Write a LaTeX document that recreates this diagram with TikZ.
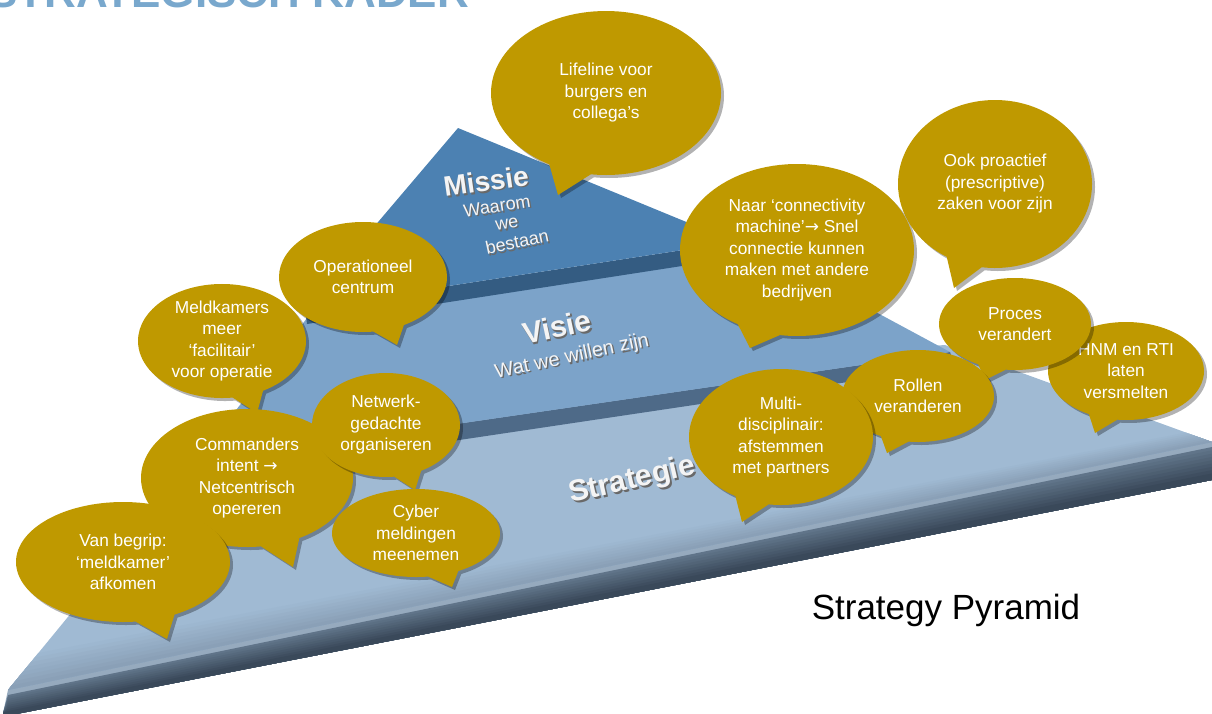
\documentclass[tikz,border=0pt]{standalone}
\usepackage{fontspec}
\setmainfont{Liberation Sans}
\newfontfamily\arrowfont{DejaVu Sans}
\usetikzlibrary{shapes.callouts,shadows}
\definecolor{gold}{RGB}{191,153,0}
\definecolor{titleblue}{RGB}{121,168,205}
\definecolor{missietop}{RGB}{76,129,178}
\definecolor{missieface}{RGB}{52,92,130}
\definecolor{visietop}{RGB}{124,163,201}
\definecolor{visieface}{RGB}{78,106,136}
\definecolor{strattop}{RGB}{160,186,211}
\definecolor{stratnear}{RGB}{138,160,183}
\definecolor{bevellight}{RGB}{150,170,190}
\definecolor{facetop}{RGB}{96,116,137}
\definecolor{facebot}{RGB}{58,73,90}
\definecolor{lbltext}{RGB}{244,244,244}
\definecolor{lblshade}{RGB}{105,105,105}
\newcommand{\arr}{{\arrowfont\fontsize{17}{17}\selectfont →}}
\begin{document}
\begin{tikzpicture}[x=1pt,y=-1pt,
  bubble/.style={ellipse callout, fill=gold, text=white, align=center,
    inner sep=0pt, font=\fontsize{17.3}{21.5}\selectfont,
    callout pointer arc=22,
    drop shadow={shadow xshift=3pt, shadow yshift=-3pt, opacity=0.3, fill=black}},
  bigtitle/.style={font=\fontsize{28}{28}\selectfont\bfseries, inner sep=0pt},
  subtitle/.style={font=\fontsize{18}{20}\selectfont, inner sep=0pt, align=center},
  lbl/.style={text=lbltext},
  lblsh/.style={text=lblshade},
]
\useasboundingbox (0,0) rectangle (1212,713);
\begin{scope}
\clip (0,0) rectangle (1212,713);
% cut-off title
\node[anchor=base west, inner sep=0pt, text=titleblue,
  font=\fontsize{44}{44}\selectfont\bfseries] (title) at (-12,7.5) {STRATEGISCH KADER};

% Strategie slab: front face with bevel (overlapping bands, top to bottom)
\fill[bevellight] (8,690) -- (1212,442) -- (1212,480) -- (6,716) -- (3,713) -- cycle;
\foreach \i in {0,...,8}{
  \pgfmathsetmacro{\p}{100-\i*12.5}
  \fill[facetop!\p!facebot]
    (8,{695+\i*2}) -- (1212,{447+\i*3.3}) -- (1212,480) -- (6,716) -- (3,{713}) -- cycle;
}
% Strategie top surface with darkening near the front edge
\fill[strattop] (8,690) -- (250,395) -- (945,345) -- (1212,442) -- cycle;
\begin{scope}
  \clip (8,690) -- (250,395) -- (945,345) -- (1212,442) -- cycle;
  \foreach \i in {1,...,8}{
    \pgfmathsetmacro{\p}{100-\i*12.5}
    \fill[strattop!\p!stratnear]
      (-40,{700-(9-\i)*4}) -- (1212,{442-(9-\i)*1.8}) -- (1212,450) -- (-40,720) -- cycle;
  }
\end{scope}
% Visie slab
\fill[visieface] (196,462) -- (950,352) -- (955,366) -- (198,479) -- cycle;
\fill[visietop] (196,462) -- (307,318) -- (742,240) -- (950,352) -- cycle;
% Missie
\fill[missieface] (305,308) -- (735,242) -- (740,257) -- (307,324) -- cycle;
\fill[missietop] (458,128) -- (735,242) -- (305,308) -- cycle;
\end{scope}

% pyramid labels (shadow copy + light text)
\node[bigtitle, lblsh, rotate=8] (missie-s) at (487.5,182.5) {Missie};
\node[bigtitle, lbl, rotate=8] (missie) at (486,181) {Missie};
\node[subtitle, lblsh, rotate=9] (waarom-s) at (498.5,207.5) {Waarom};
\node[subtitle, lbl, rotate=9] (waarom) at (497,206) {Waarom};
\node[subtitle, lblsh, rotate=9] (we-s) at (508.5,225.5) {we};
\node[subtitle, lbl, rotate=9] (we) at (507,224) {we};
\node[subtitle, lblsh, rotate=12] (bestaan-s) at (518.5,243.5) {bestaan};
\node[subtitle, lbl, rotate=12] (bestaan) at (517,242) {bestaan};

\node[bigtitle, lblsh, rotate=12, font=\fontsize{30}{30}\selectfont\bfseries] (visie-s) at (558.5,328.5) {Visie};
\node[bigtitle, lbl, rotate=12, font=\fontsize{30}{30}\selectfont\bfseries] (visie) at (557,327) {Visie};
\node[subtitle, lblsh, rotate=12, font=\fontsize{20}{20}\selectfont] (wat-s) at (573.5,358.5) {Wat we willen zijn};
\node[subtitle, lbl, rotate=12, font=\fontsize{20}{20}\selectfont] (wat) at (572,357) {Wat we willen zijn};

\node[bigtitle, lblsh, rotate=13, font=\fontsize{30}{30}\selectfont\bfseries] (strat-s) at (634,483) {Strategie};
\node[bigtitle, lbl, rotate=13, font=\fontsize{30}{30}\selectfont\bfseries] (strat) at (632,481) {Strategie};

% bubbles
\node[bubble, minimum width=230, minimum height=164, callout absolute pointer={(558,195)}] (lifeline) at (606,93) {Lifeline voor\\burgers en\\collega’s};
\node[bubble, minimum width=168, minimum height=110, callout absolute pointer={(397,345)}] (oper) at (363,277) {Operationeel\\centrum};
\node[bubble, minimum width=168, minimum height=114, callout absolute pointer={(257,413)}] (meld) at (222,341) {Meldkamers\\meer\\‘facilitair’\\voor operatie};
\node[bubble, minimum width=212, minimum height=138, callout absolute pointer={(293,567)}] (comm) at (247,478) {Commanders\\intent \arr\\Netcentrisch\\opereren};
\node[bubble, minimum width=148, minimum height=104, callout absolute pointer={(415,490)}] (netw) at (386,425) {Netwerk-\\gedachte\\organiseren};
\node[bubble, minimum width=168, minimum height=88, callout absolute pointer={(452,587)}] (cyber) at (416,533) {Cyber\\meldingen\\meenemen};
\node[bubble, minimum width=214, minimum height=120, callout absolute pointer={(167,639)}] (vanb) at (123,562) {Van begrip:\\‘meldkamer’\\afkomen};
\node[bubble, minimum width=234, minimum height=172, callout absolute pointer={(750,348)}] (naar) at (797,250) {Naar ‘connectivity\\machine’\arr\ Snel\\connectie kunnen\\maken met andere\\bedrijven};
\node[bubble, minimum width=194, minimum height=168, callout absolute pointer={(954,288)}] (ook) at (995,184) {Ook proactief\\(prescriptive)\\zaken voor zijn};
\node[bubble, minimum width=156, minimum height=98, callout absolute pointer={(1095,433)}] (hnm) at (1126,371) {HNM en RTI\\laten\\versmelten};
\node[bubble, minimum width=152, minimum height=92, callout absolute pointer={(985,380)}] (proces) at (1015,324) {Proces\\verandert};
\node[bubble, minimum width=152, minimum height=92, callout absolute pointer={(887,453)}] (rollen) at (918,396) {Rollen\\veranderen};
\node[bubble, minimum width=184, minimum height=136, callout absolute pointer={(742,522)}] (multi) at (781,437) {Multi-\\disciplinair:\\afstemmen\\met partners};

\node[inner sep=0pt, font=\fontsize{35}{35}\selectfont] (caption) at (946,610) {Strategy Pyramid};
\end{tikzpicture}
\end{document}
